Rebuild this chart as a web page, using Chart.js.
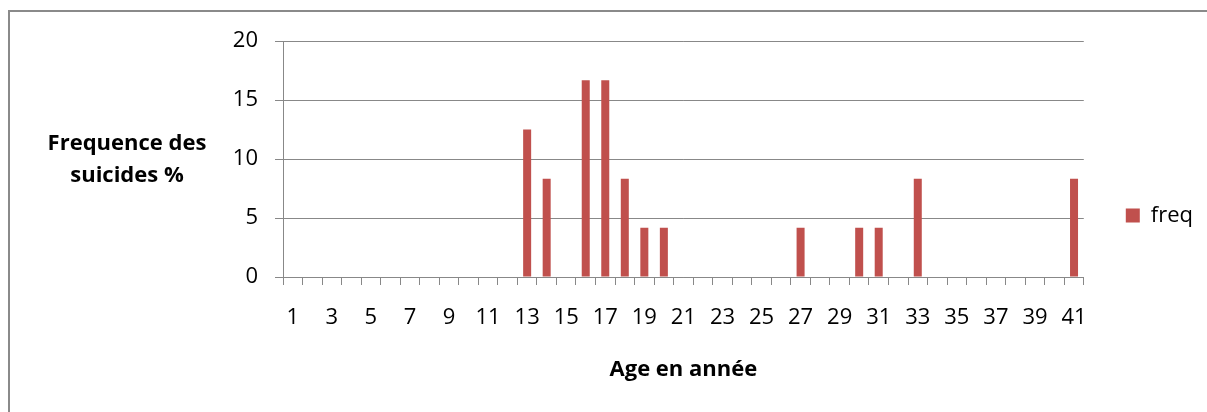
<!DOCTYPE html>
<html>
<head>
<meta charset="utf-8">
<script src="https://cdn.jsdelivr.net/npm/chart.js@4.4.0/dist/chart.umd.min.js"></script>
<style>
  html, body { margin: 0; padding: 0; background: #fff; }
  #wrap { position: relative; width: 1207px; height: 412px; overflow: hidden; }
  #frame { position: absolute; left: 8px; top: 10px; width: 1300px; height: 500px;
           border-top: 2px solid #8a8a8a; border-left: 2px solid #8a8a8a; }
  canvas { position: absolute; left: 0; top: 0; }
</style>
</head>
<body>
<div id="wrap">
  <div id="frame"></div>
  <canvas id="c" width="1207" height="412"></canvas>
</div>
<script>
// ages 1..41
const ages = [];
for (let a = 1; a <= 41; a++) ages.push(String(a));

// frequence (%) par age
const freq = [
  0, 0, 0, 0, 0, 0, 0, 0, 0, 0,      // 1-10
  0, 0, 12.5, 8.33, 0, 16.67, 16.67, 8.33, 4.17, 4.17, // 11-20
  0, 0, 0, 0, 0, 0, 4.17, 0, 0, 4.17, // 21-30
  4.17, 0, 8.33, 0, 0, 0, 0, 0, 0, 0, // 31-40
  8.33                                // 41
];

const yTicks = [0, 5, 10, 15, 20];
const yTitle = ['Frequence des', 'suicides %'];
const xTitle = 'Age en année';
const seriesName = 'freq';

const FONT = '"Open Sans", Carlito, Lato, sans-serif';
const GRID = '#888888';

// titre de l'axe Y, horizontal comme dans Excel
const yTitlePlugin = {
  id: 'yTitle',
  afterLayout(chart) {
    // legende un peu plus haut, comme dans l'original
    if (chart.legend) { chart.legend.top -= 11; chart.legend.bottom -= 11; }
  },
  afterDraw(chart) {
    const ctx = chart.ctx;
    ctx.save();
    ctx.font = 'bold 22px ' + FONT;
    ctx.fillStyle = '#000';
    ctx.textAlign = 'center';
    ctx.textBaseline = 'middle';
    ctx.fillText(yTitle[0], 127, 144);
    ctx.fillText(yTitle[1], 127, 176);
    ctx.restore();
  }
};

new Chart(document.getElementById('c'), {
  type: 'bar',
  data: {
    labels: ages,
    datasets: [{
      label: seriesName,
      data: freq,
      backgroundColor: '#C0504D',
      borderWidth: 0,
      barPercentage: 0.41,
      categoryPercentage: 1
    }]
  },
  options: {
    responsive: false,
    animation: false,
    layout: { padding: { left: 0, top: 41, right: 4, bottom: 0 } },
    plugins: {
      tooltip: { enabled: false },
      legend: {
        position: 'right',
        labels: {
          boxWidth: 14, boxHeight: 14, padding: 42,
          color: '#000',
          font: { family: FONT, size: 22 }
        }
      }
    },
    scales: {
      x: {
        afterFit(s) { s.height = 135; },
        grid: { drawOnChartArea: false, drawTicks: true, tickLength: 8, color: GRID, offset: true },
        border: { color: GRID, width: 1 },
        ticks: {
          autoSkip: false, maxRotation: 0, padding: 20, color: '#000',
          font: { family: FONT, size: 22 },
          callback(v, i) { return i % 2 === 0 ? ages[i] : ''; }
        },
        title: {
          display: true, text: xTitle, color: '#000',
          font: { family: FONT, size: 22, weight: 'bold' },
          padding: { top: 0, bottom: 29 }
        }
      },
      y: {
        min: 0, max: 20,
        afterFit(s) { s.width = 283; },
        afterBuildTicks(s) { s.ticks = yTicks.map(v => ({ value: v })); },
        grid: { color: GRID, tickLength: 8, lineWidth: 1 },
        border: { color: GRID, width: 1 },
        ticks: { padding: 17, color: '#000', font: { family: FONT, size: 22 } }
      }
    }
  },
  plugins: [yTitlePlugin]
});
</script>
</body>
</html>
